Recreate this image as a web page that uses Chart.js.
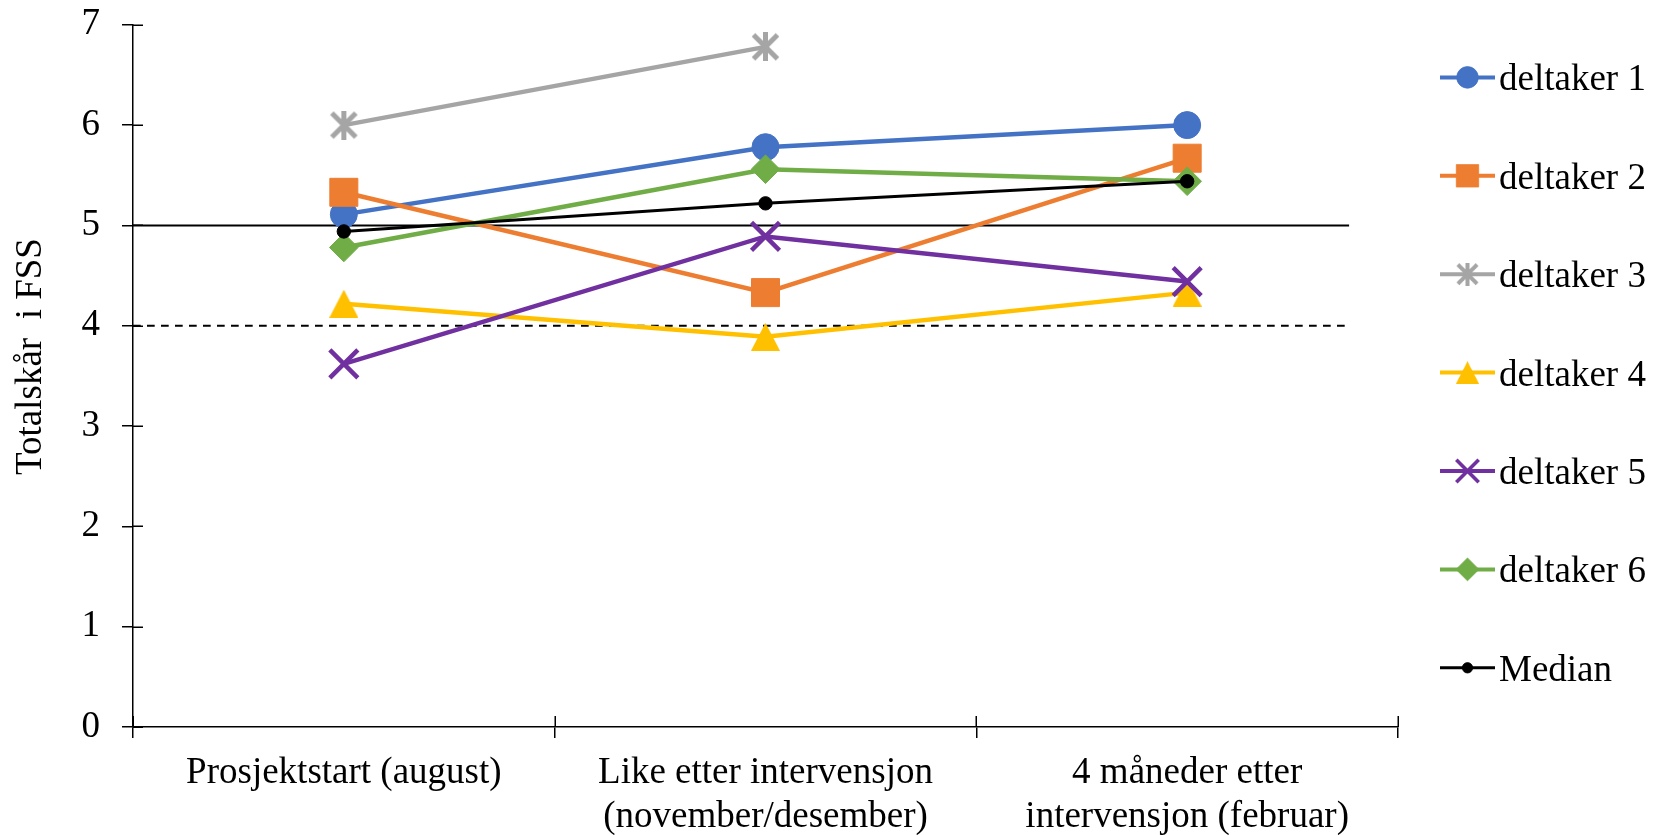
<!DOCTYPE html>
<html lang="no">
<head>
<meta charset="utf-8">
<title>Totalskår i FSS</title>
<script src="https://cdn.jsdelivr.net/npm/chart.js"></script>
<style>
  html, body { margin: 0; padding: 0; background: #ffffff; }
  #wrap { width: 1663px; height: 835px; }
  canvas { display: block; }
</style>
</head>
<body>
<div id="wrap"><canvas id="fss" width="1663" height="835"></canvas></div>
<script>
// Måletidspunkter (x-akse)
const categories = [
  ['Prosjektstart (august)'],
  ['Like etter intervensjon', '(november/desember)'],
  ['4 måneder etter', 'intervensjon (februar)']
];

// Totalskår i FSS per deltaker
const deltaker1 = [5.11, 5.78, 6.00];
const deltaker2 = [5.33, 4.33, 5.67];
const deltaker3 = [6.00, 6.78, null];
const deltaker4 = [4.22, 3.89, 4.33];
const deltaker5 = [3.62, 4.89, 4.44];
const deltaker6 = [4.78, 5.56, 5.44];
const median    = [4.94, 5.22, 5.44];

const seriesNames = ['deltaker 1', 'deltaker 2', 'deltaker 3', 'deltaker 4', 'deltaker 5', 'deltaker 6', 'Median'];

// Y-akse
const yMin = 0;
const yMax = 7;
const yStep = 1;
const yTitle = 'Totalskår  i FSS';

// Grenseverdier: heltrukket ved 5, stiplet ved 4
const solidCutoff = 5;
const dashedCutoff = 4;

const SERIF = '"Liberation Serif", "Times New Roman", Times, serif';
const FONT = { family: SERIF, size: 37, lineHeight: 1.2 };
// Tallene på y-aksen: lav linjehøyde så plottet kan starte høyt oppe
const Y_FONT = { family: SERIF, size: 37, lineHeight: 0.15 };

// Egne markører: stjerne (* med kryss) og trekant
function starImage(color, size, lw) {
  const c = document.createElement('canvas');
  c.width = size; c.height = size;
  const g = c.getContext('2d');
  g.strokeStyle = color; g.lineWidth = lw; g.lineCap = 'butt';
  const p = lw / 2, q = size - lw / 2, m = size / 2;
  g.beginPath();
  g.moveTo(p, p); g.lineTo(q, q);
  g.moveTo(q, p); g.lineTo(p, q);
  g.moveTo(m, 0); g.lineTo(m, size);
  g.stroke();
  return c;
}
function triangleImage(color, w, h) {
  const c = document.createElement('canvas');
  c.width = w; c.height = h;
  const g = c.getContext('2d');
  g.fillStyle = color;
  g.beginPath();
  g.moveTo(w / 2, 0); g.lineTo(w, h); g.lineTo(0, h);
  g.closePath(); g.fill();
  return c;
}

const colors = ['#4472C4', '#ED7D31', '#A5A5A5', '#FFC000', '#7030A0', '#70AD47', '#000000'];

const starPt = starImage(colors[2], 29, 5);
const triPt = triangleImage(colors[3], 29, 28);

function series(i, data, style, radius, lineWidth, pointBorder) {
  return {
    label: seriesNames[i],
    data: data,
    borderColor: colors[i],
    backgroundColor: colors[i],
    borderWidth: lineWidth,
    pointStyle: style,
    pointRadius: radius,
    pointHoverRadius: radius,
    pointBorderWidth: pointBorder,
    pointBorderColor: colors[i],
    pointBackgroundColor: colors[i],
    tension: 0,
    spanGaps: false,
    order: 10 - i,
    fill: false
  };
}

const datasets = [
  series(0, deltaker1, 'circle', 13.5, 4.5, 1),
  series(1, deltaker2, 'rect', 19.8, 4.5, 1),
  series(2, deltaker3, starPt, 15, 4.5, 0),
  series(3, deltaker4, triPt, 15, 4.5, 0),
  series(4, deltaker5, 'crossRot', 19.8, 4.5, 4.5),
  series(5, deltaker6, 'rectRot', 14.3, 4.5, 1),
  series(6, median, 'circle', 6.7, 3, 1)
];

// Grenselinjer ved 4 og 5 (tegnes bak seriene)
const cutoffLines = {
  id: 'cutoffLines',
  beforeDatasetsDraw(chart) {
    const { ctx, chartArea, scales: { x, y } } = chart;
    const xEnd = x.getPixelForValue(2.384);
    ctx.save();
    ctx.strokeStyle = '#000000';
    ctx.lineWidth = 2;
    let py = y.getPixelForValue(solidCutoff);
    ctx.beginPath(); ctx.moveTo(chartArea.left, py); ctx.lineTo(xEnd, py); ctx.stroke();
    py = y.getPixelForValue(dashedCutoff);
    ctx.setLineDash([7.7, 6.3]);
    ctx.beginPath(); ctx.moveTo(chartArea.left, py); ctx.lineTo(xEnd, py); ctx.stroke();
    ctx.restore();
  }
};

// Tick-streker som krysser aksene (innsiden av plottet)
const crossTicks = {
  id: 'crossTicks',
  afterDraw(chart) {
    const { ctx, chartArea, scales: { x, y } } = chart;
    ctx.save();
    ctx.strokeStyle = '#000000';
    ctx.lineWidth = 1.5;
    ctx.beginPath();
    y.ticks.forEach(t => {
      const py = Math.round(y.getPixelForValue(t.value)) + 0.25;
      ctx.moveTo(chartArea.left, py); ctx.lineTo(chartArea.left + 10, py);
    });
    for (let i = 0; i <= categories.length; i++) {
      const px = Math.round(x.getPixelForValue(i - 0.5)) + 0.25;
      ctx.moveTo(px, chartArea.bottom); ctx.lineTo(px, chartArea.bottom - 11);
    }
    ctx.stroke();
    ctx.restore();
  }
};

// Aksetittel for y-aksen
const yAxisTitle = {
  id: 'yAxisTitle',
  afterDraw(chart) {
    const { ctx } = chart;
    ctx.save();
    ctx.translate(40.5, 356.5);
    ctx.rotate(-Math.PI / 2);
    ctx.font = '37px ' + SERIF;
    ctx.fillStyle = '#000000';
    ctx.textAlign = 'center';
    ctx.textBaseline = 'alphabetic';
    ctx.fillText(yTitle, 0, 0);
    ctx.restore();
  }
};

// Tegnforklaring til høyre: linjestykke + markør + tekst
const sideLegend = {
  id: 'sideLegend',
  afterDraw(chart) {
    const { ctx } = chart;
    const x0 = 1440, x1 = 1495, xm = 1467.5, xt = 1499;
    const top = 77.4, step = 98.4;
    ctx.save();
    chart.data.datasets.forEach((ds, i) => {
      const cy = top + i * step;
      ctx.strokeStyle = ds.borderColor;
      ctx.lineWidth = i === 6 ? 3 : 4;
      ctx.setLineDash([]);
      ctx.beginPath(); ctx.moveTo(x0, cy); ctx.lineTo(x1, cy); ctx.stroke();

      ctx.save();
      ctx.translate(xm, cy);
      ctx.scale(0.8, 0.8);
      ctx.fillStyle = ds.pointBackgroundColor;
      ctx.strokeStyle = ds.pointBorderColor;
      ctx.lineWidth = ds.pointBorderWidth;
      Chart.helpers.drawPoint(ctx, {
        pointStyle: ds.pointStyle,
        radius: i === 6 ? 6.5 : ds.pointRadius,
        rotation: 0,
        borderWidth: ds.pointBorderWidth
      }, 0, 0);
      ctx.restore();

      ctx.fillStyle = '#000000';
      ctx.font = '37px ' + SERIF;
      ctx.textAlign = 'left';
      ctx.textBaseline = 'alphabetic';
      ctx.fillText(ds.label, xt, cy + 13);
    });
    ctx.restore();
  }
};

new Chart(document.getElementById('fss'), {
  type: 'line',
  data: { labels: categories, datasets: datasets },
  options: {
    responsive: false,
    animation: false,
    devicePixelRatio: 1,
    events: [],
    layout: { padding: { left: 0, right: 265, top: 4, bottom: 0 } },
    plugins: {
      legend: { display: false },
      tooltip: { enabled: false },
      title: { display: false }
    },
    scales: {
      x: {
        type: 'category',
        offset: true,
        grid: {
          offset: true,
          drawOnChartArea: false,
          drawTicks: true,
          tickLength: 11,
          color: '#000000',
          lineWidth: 1.5
        },
        border: { display: true, color: '#000000', width: 1.5 },
        ticks: {
          font: FONT,
          color: '#000000',
          padding: 13,
          maxRotation: 0,
          minRotation: 0,
          autoSkip: false
        },
        afterFit(scale) { scale.height = 108; }
      },
      y: {
        min: yMin,
        max: yMax,
        grid: {
          drawOnChartArea: false,
          drawTicks: true,
          tickLength: 11,
          color: '#000000',
          lineWidth: 1.5
        },
        border: { display: true, color: '#000000', width: 1.5 },
        ticks: {
          stepSize: yStep,
          font: Y_FONT,
          color: '#000000',
          padding: 22
        },
        afterFit(scale) { scale.width = 133; }
      }
    }
  },
  plugins: [cutoffLines, crossTicks, yAxisTitle, sideLegend]
});
</script>
</body>
</html>
